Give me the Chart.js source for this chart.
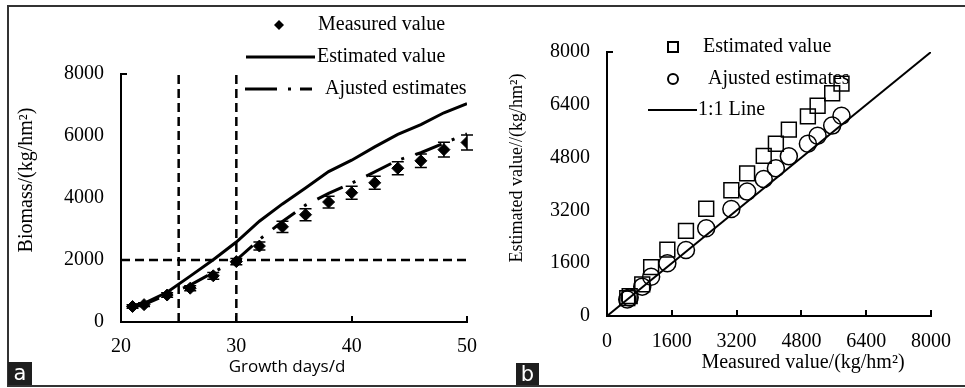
<!DOCTYPE html>
<html>
<head>
<meta charset="utf-8">
<script src="https://cdn.jsdelivr.net/npm/chart.js@4.4.1/dist/chart.umd.min.js"></script>
<style>
    body { margin: 0; background: #fff; }
    #fig { position: relative; width: 965px; height: 388px; overflow: hidden; }
    canvas { position: absolute; top: 0; }
    #chartA { left: 0; }
    #chartB { left: 490px; }
    .line { position: absolute; background: #333; }
    .tag { position: absolute; background: #1e1e1e; color: #fff; font: 21px "DejaVu Sans", sans-serif; text-align: center; line-height: 22px; }
</style>
</head>
<body>
<div id="fig">
    <canvas id="chartA" width="490" height="388"></canvas>
    <canvas id="chartB" width="475" height="388"></canvas>
    <div class="line" style="left:8px; top:5px; width:957px; height:2px;"></div>
    <div class="line" style="left:8px; top:385px; width:957px; height:2px;"></div>
    <div class="line" style="left:7px; top:5px; width:2px; height:382px;"></div>
    <div class="tag" style="left:8px; top:362px; width:24px; height:23px;">a</div>
    <div class="tag" style="left:516px; top:363px; width:23px; height:22px;">b</div>
</div>
<script>
(() => {

    // datos
    const days = [21, 22, 24, 26, 28, 30, 32, 34, 36, 38, 40, 42, 44, 46, 48, 50];
    const measured = [500, 560, 870, 1090, 1490, 1950, 2450, 3070, 3460, 3870, 4170, 4490, 4960, 5200, 5560, 5790];
    const measuredErr = [60, 60, 70, 80, 110, 100, 130, 180, 190, 190, 210, 210, 210, 220, 240, 240];
    const estimated = [540, 600, 960, 1480, 2010, 2580, 3250, 3810, 4320, 4850, 5220, 5650, 6050, 6370, 6750, 7040];
    const adjusted = [500, 560, 890, 1190, 1600, 2000, 2660, 3240, 3770, 4150, 4480, 4840, 5220, 5460, 5770, 6070];

    const refDays = [25, 30];
    const refBiomass = [2000];
    const oneToOne = [0, 8000];

    const dayTicks = [20, 30, 40, 50];
    const biomassTicks = [0, 2000, 4000, 6000, 8000];
    const scatterTicks = [0, 1600, 3200, 4800, 6400, 8000];

    const serif = '"Liberation Serif", "Times New Roman", serif';

    Chart.defaults.font.family = serif;
    Chart.defaults.font.size = 20;
    Chart.defaults.color = '#000';

    function tickScale(ticks, pos, width, padding) {
        return {
            type: 'linear',
            position: pos,
            min: ticks[0],
            max: ticks[ticks.length - 1],
            afterBuildTicks: s => { s.ticks = ticks.map(v => ({ value: v })); },
            afterFit: s => {
                if (pos === 'left') s.width = width; else s.height = width;
            },
            grid: { display: false, drawTicks: false },
            border: { display: true, color: '#000', width: 2 },
            ticks: {
                color: '#000',
                padding: padding,
                font: { family: serif, size: 20 },
                callback: v => String(v)
            }
        };
    }

    // marcas de los ejes hacia dentro
    const innerTicks = {
        id: 'innerTicks',
        afterDraw(chart) {
            const ctx = chart.ctx;
            const area = chart.chartArea;
            const x = chart.scales.x;
            ctx.save();
            ctx.strokeStyle = '#000';
            ctx.lineWidth = 2;
            ctx.beginPath();
            x.ticks.slice(1).forEach(t => {
                const px = Math.round(x.getPixelForValue(t.value));
                ctx.moveTo(px, area.bottom);
                ctx.lineTo(px, area.bottom - 6);
            });
            ctx.moveTo(area.left, area.top);
            ctx.lineTo(area.left + 6, area.top);
            ctx.stroke();
            ctx.restore();
        }
    };

    function texto(ctx, str, x, y, font, align, rot) {
        ctx.save();
        ctx.translate(x, y);
        if (rot) ctx.rotate(rot);
        ctx.font = font;
        ctx.fillStyle = '#000';
        ctx.textAlign = align;
        ctx.textBaseline = 'middle';
        ctx.fillText(str, 0, 0);
        ctx.restore();
    }

    const extrasA = {
        id: 'extrasA',
        beforeDatasetsDraw(chart) {
            const ctx = chart.ctx;
            const x = chart.scales.x, y = chart.scales.y;
            const area = chart.chartArea;
            ctx.save();
            ctx.strokeStyle = '#000';
            ctx.lineWidth = 2.5;
            ctx.setLineDash([9, 5]);
            ctx.beginPath();
            refDays.forEach(d => {
                const px = x.getPixelForValue(d);
                ctx.moveTo(px, area.bottom);
                ctx.lineTo(px, area.top);
            });
            refBiomass.forEach(v => {
                const py = y.getPixelForValue(v);
                ctx.moveTo(area.left, py);
                ctx.lineTo(area.right, py);
            });
            ctx.stroke();
            ctx.setLineDash([]);

            // barras de error
            ctx.lineWidth = 1.5;
            ctx.beginPath();
            days.forEach((d, i) => {
                const px = x.getPixelForValue(d);
                const top = y.getPixelForValue(measured[i] + measuredErr[i]);
                const bot = y.getPixelForValue(measured[i] - measuredErr[i]);
                ctx.moveTo(px, top); ctx.lineTo(px, bot);
                ctx.moveTo(px - 6, top); ctx.lineTo(px + 6, top);
                ctx.moveTo(px - 6, bot); ctx.lineTo(px + 6, bot);
            });
            ctx.stroke();
            ctx.restore();
        },
        afterDraw(chart) {
            const ctx = chart.ctx;
            const ds = chart.data.datasets;
            texto(ctx, 'Biomass/(kg/hm\u00b2)', 27, 180, '20px ' + serif, 'center', -Math.PI / 2);
            texto(ctx, 'Growth days/d', 287, 367, '17px "Open Sans", sans-serif', 'center');

            ctx.save();
            ctx.fillStyle = '#000';
            ctx.beginPath();
            ctx.moveTo(279 - 5, 25); ctx.lineTo(279, 20); ctx.lineTo(279 + 5, 25); ctx.lineTo(279, 30);
            ctx.closePath();
            ctx.fill();
            ctx.strokeStyle = '#000';
            ctx.lineWidth = 3;
            ctx.beginPath();
            ctx.moveTo(246, 57); ctx.lineTo(315, 57);
            ctx.stroke();
            ctx.setLineDash([32, 11, 3, 9]);
            ctx.beginPath();
            ctx.moveTo(245, 89); ctx.lineTo(312, 89);
            ctx.stroke();
            ctx.restore();
            texto(ctx, ds[0].label, 318, 25, '20px ' + serif, 'left');
            texto(ctx, ds[1].label, 317, 57, '20px ' + serif, 'left');
            texto(ctx, ds[2].label, 325, 89, '20px ' + serif, 'left');
        }
    };

    const extrasB = {
        id: 'extrasB',
        afterDraw(chart) {
            const ctx = chart.ctx;
            const ds = chart.data.datasets;
            texto(ctx, 'Estimated value//(kg/hm\u00b2)', 27, 168, '18px ' + serif, 'center', -Math.PI / 2);
            texto(ctx, 'Measured value/(kg/hm\u00b2)', 313, 363, '20px ' + serif, 'center');

            ctx.save();
            ctx.strokeStyle = '#000';
            ctx.lineWidth = 2;
            ctx.strokeRect(178, 42, 10, 10);
            ctx.beginPath();
            ctx.arc(183, 79, 5, 0, Math.PI * 2);
            ctx.stroke();
            ctx.beginPath();
            ctx.moveTo(158, 110); ctx.lineTo(207, 110);
            ctx.stroke();
            ctx.restore();
            texto(ctx, ds[0].label, 213, 47, '20px ' + serif, 'left');
            texto(ctx, ds[1].label, 218, 79, '20px ' + serif, 'left');
            texto(ctx, ds[2].label, 208, 110, '20px ' + serif, 'left');
        }
    };

    new Chart(document.getElementById('chartA'), {
        type: 'scatter',
        data: {
            datasets: [{
                label: 'Measured value',
                data: days.map((d, i) => ({ x: d, y: measured[i] })),
                pointStyle: 'rectRot',
                pointRadius: 6,
                backgroundColor: '#000',
                borderColor: '#000',
                borderWidth: 1
            }, {
                label: 'Estimated value',
                data: days.map((d, i) => ({ x: d, y: estimated[i] })),
                showLine: true,
                borderColor: '#000',
                borderWidth: 3,
                pointRadius: 0
            }, {
                label: 'Ajusted estimates',
                data: days.map((d, i) => ({ x: d, y: adjusted[i] })),
                showLine: true,
                borderColor: '#000',
                borderWidth: 3,
                borderDash: [28, 11, 3, 12],
                pointRadius: 0
            }]
        },
        options: {
            responsive: false,
            animation: false,
            layout: { padding: { top: 74, right: 20, left: 0, bottom: 0 } },
            plugins: { legend: { display: false }, tooltip: { enabled: false } },
            scales: {
                x: tickScale(dayTicks, 'bottom', 66, 13),
                y: tickScale(biomassTicks, 'left', 121, 17)
            }
        },
        plugins: [extrasA, innerTicks]
    });

    new Chart(document.getElementById('chartB'), {
        type: 'scatter',
        data: {
            datasets: [{
                label: 'Estimated value',
                data: measured.map((m, i) => ({ x: m, y: estimated[i] })),
                pointStyle: 'rect',
                pointRadius: 10.5,
                backgroundColor: 'rgba(0,0,0,0)',
                borderColor: '#000',
                borderWidth: 1.5
            }, {
                label: 'Ajusted estimates',
                data: measured.map((m, i) => ({ x: m, y: adjusted[i] })),
                pointStyle: 'circle',
                pointRadius: 8.5,
                backgroundColor: 'rgba(0,0,0,0)',
                borderColor: '#000',
                borderWidth: 1.5
            }, {
                label: '1:1 Line',
                data: oneToOne.map(v => ({ x: v, y: v })),
                showLine: true,
                borderColor: '#000',
                borderWidth: 2,
                pointRadius: 0
            }]
        },
        options: {
            responsive: false,
            animation: false,
            layout: { padding: { top: 52, right: 20, left: 0, bottom: 0 } },
            plugins: { legend: { display: false }, tooltip: { enabled: false } },
            scales: {
                x: tickScale(scatterTicks, 'bottom', 72, 14),
                y: tickScale(scatterTicks, 'left', 117, 17)
            }
        },
        plugins: [extrasB, innerTicks]
    });

})();
</script>
</body>
</html>
